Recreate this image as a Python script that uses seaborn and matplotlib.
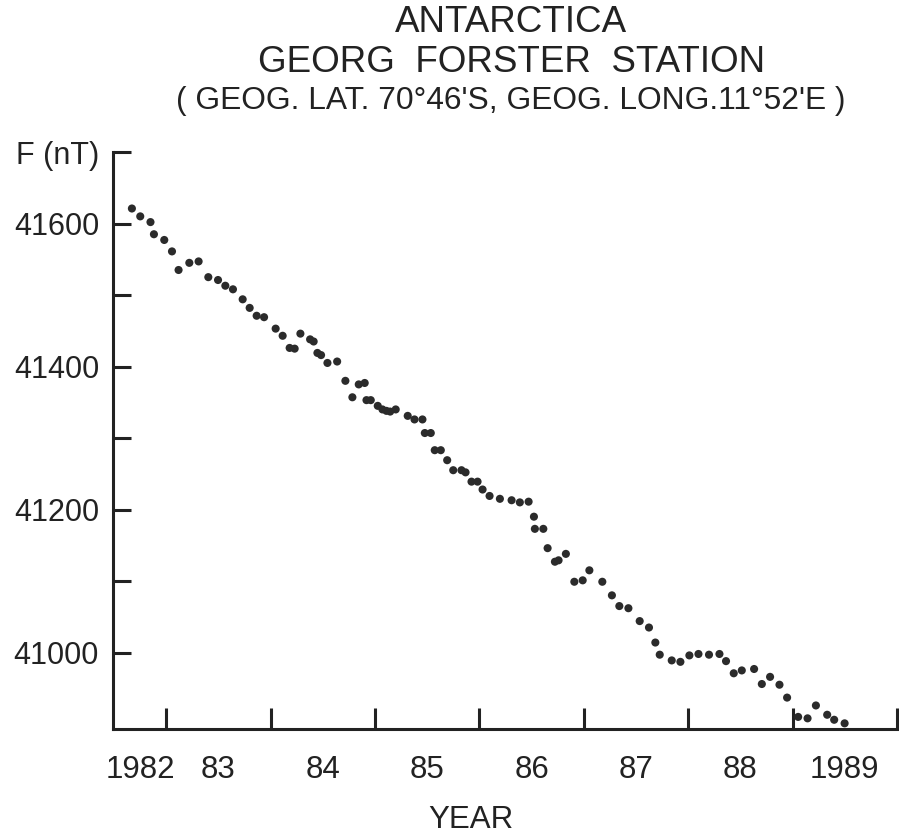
import matplotlib
matplotlib.use("Agg")
import matplotlib.pyplot as plt
import seaborn as sns
import pandas as pd
from matplotlib.ticker import FixedLocator, FixedFormatter, NullFormatter

# ---- data ----
year = [1982.671, 1982.751, 1982.849, 1982.882, 1982.981, 1983.055, 1983.118, 1983.221,
        1983.310, 1983.403, 1983.496, 1983.566, 1983.639, 1983.732, 1983.799, 1983.866,
        1983.937, 1984.048, 1984.115, 1984.182, 1984.230, 1984.285, 1984.378, 1984.412,
        1984.448, 1984.483, 1984.544, 1984.637, 1984.716, 1984.783, 1984.844, 1984.901,
        1984.918, 1984.959, 1985.026, 1985.071, 1985.109, 1985.145, 1985.198, 1985.313,
        1985.378, 1985.454, 1985.477, 1985.534, 1985.572, 1985.630, 1985.691, 1985.749,
        1985.828, 1985.867, 1985.924, 1985.982, 1986.030, 1986.097, 1986.196, 1986.308,
        1986.387, 1986.471, 1986.522, 1986.531, 1986.612, 1986.653, 1986.723, 1986.758,
        1986.828, 1986.909, 1986.989, 1987.053, 1987.177, 1987.269, 1987.340, 1987.427,
        1987.535, 1987.624, 1987.685, 1987.727, 1987.842, 1987.925, 1988.011, 1988.098,
        1988.199, 1988.299, 1988.362, 1988.436, 1988.513, 1988.631, 1988.705, 1988.784,
        1988.874, 1988.947, 1989.053, 1989.143, 1989.223, 1989.331, 1989.398, 1989.498]
field_nT = [41621, 41610, 41602, 41585, 41577, 41561, 41535, 41545,
            41547, 41525, 41521, 41513, 41508, 41494, 41482, 41471,
            41469, 41453, 41443, 41426, 41425, 41446, 41438, 41435,
            41419, 41416, 41405, 41407, 41380, 41357, 41375, 41377,
            41353, 41353, 41345, 41340, 41338, 41337, 41340, 41331,
            41326, 41326, 41307, 41307, 41283, 41283, 41269, 41255,
            41255, 41252, 41239, 41239, 41228, 41219, 41215, 41213,
            41210, 41211, 41190, 41173, 41173, 41146, 41127, 41129,
            41138, 41099, 41101, 41115, 41099, 41080, 41065, 41062,
            41044, 41035, 41014, 40997, 40989, 40987, 40996, 40998,
            40997, 40998, 40988, 40971, 40975, 40977, 40956, 40966,
            40955, 40937, 40910, 40908, 40926, 40913, 40906, 40901]

year_labels = ["1982", "83", "84", "85", "86", "87", "88", "1989"]
year_label_pos = [1982.75, 1983.5, 1984.5, 1985.5, 1986.5, 1987.5, 1988.5, 1989.5]
year_ticks = [1983, 1984, 1985, 1986, 1987, 1988, 1989, 1990]
y_ticks = [41000, 41100, 41200, 41300, 41400, 41500, 41600, 41700]
y_tick_labels = ["41000", "", "41200", "", "41400", "", "41600", "F (nT)"]

title_lines = ["ANTARCTICA", "GEORG  FORSTER  STATION",
               "( GEOG. LAT. 70°46'S, GEOG. LONG.11°52'E )"]

df = pd.DataFrame({"year": year, "F": field_nT})

sns.set_style("ticks")
plt.rcParams["font.family"] = ["Liberation Sans", "DejaVu Sans"]
ink = "#222222"

fig = plt.figure(figsize=(8.99, 8.38), dpi=100)
ax = fig.add_axes([0.1257, 0.130, 0.8721, 0.6886])

sns.scatterplot(data=df, x="year", y="F", ax=ax, color="#2b2b2b", s=34,
                edgecolor="none", legend=False)

ax.set_xlim(1982.49, 1990.0)
ax.set_ylim(40893, 41700)

for side in ["top", "right"]:
    ax.spines[side].set_visible(False)
for side in ["left", "bottom"]:
    ax.spines[side].set_linewidth(2.2)
    ax.spines[side].set_color(ink)

ax.xaxis.set_major_locator(FixedLocator(year_ticks))
ax.xaxis.set_major_formatter(NullFormatter())
ax.xaxis.set_minor_locator(FixedLocator(year_label_pos))
ax.xaxis.set_minor_formatter(FixedFormatter(year_labels))
ax.tick_params(axis="x", which="major", direction="in", length=15, width=2.2, color=ink)
ax.tick_params(axis="x", which="minor", length=0, pad=19, labelsize=22.5, labelcolor=ink)

ax.yaxis.set_major_locator(FixedLocator(y_ticks))
ax.yaxis.set_major_formatter(FixedFormatter(y_tick_labels))
ax.tick_params(axis="y", which="major", direction="in", length=13, width=2.2,
               color=ink, pad=10, labelsize=22, labelcolor=ink)

ax.set_xlabel("YEAR", fontsize=22.5, color=ink)
ax.xaxis.set_label_coords(0.457, -0.131)
ax.set_ylabel("")

fig.text(0.568, 0.973, title_lines[0], ha="center", va="center", fontsize=26.5, color=ink)
fig.text(0.569, 0.926, title_lines[1], ha="center", va="center", fontsize=26.5, color=ink)
fig.text(0.568, 0.879, title_lines[2], ha="center", va="center", fontsize=22.9, color=ink)

fig.savefig("out.png", dpi=100, facecolor="white")
